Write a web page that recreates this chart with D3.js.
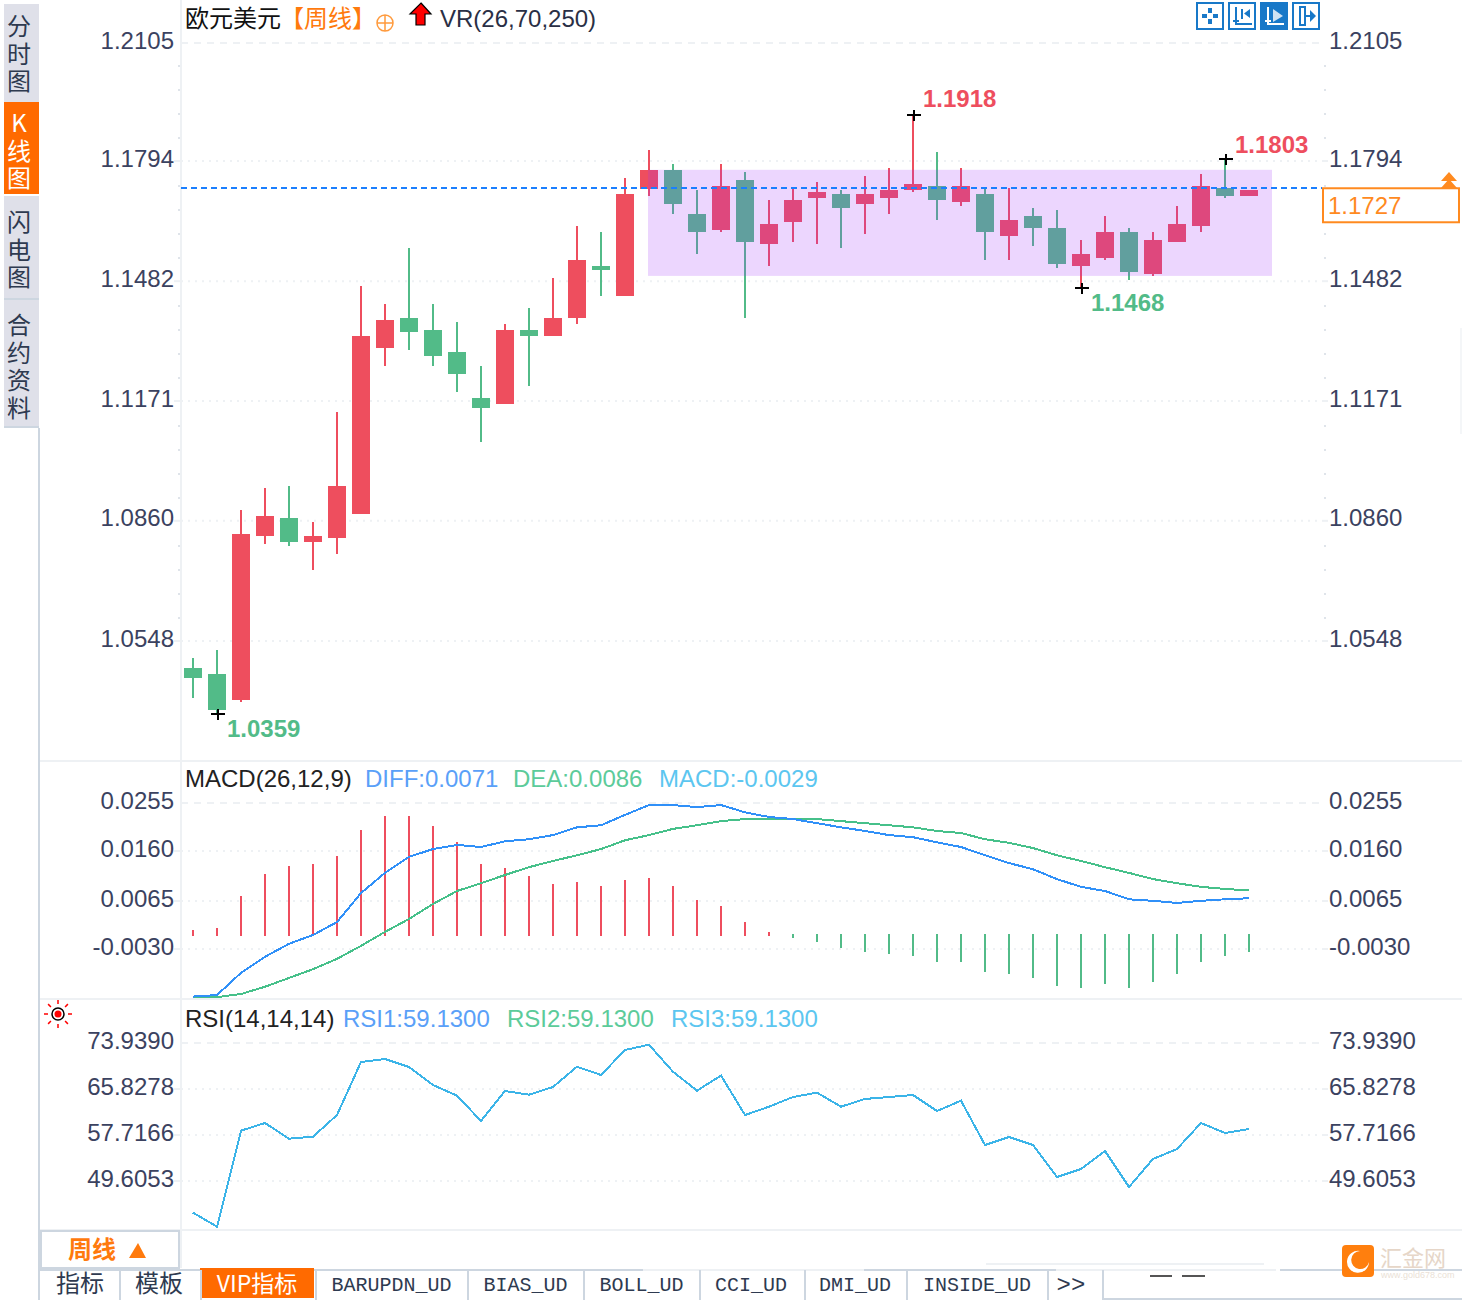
<!DOCTYPE html>
<html>
<head>
<meta charset="utf-8">
<title>欧元美元 周线</title>
<script src="https://cdn.jsdelivr.net/npm/d3@7"></script>
<style>
html, body { margin: 0; padding: 0; background: #fff; }
svg { display: block; }
text { font-family: "Liberation Sans", Arial, sans-serif; font-kerning: none; }
.cjk { font-family: "Noto Sans CJK SC", sans-serif; }
.mono { font-family: "Liberation Mono", monospace; }
.side { font-family: "Noto Sans CJK SC", sans-serif; writing-mode: vertical-rl; text-orientation: upright; letter-spacing: 3.6px; }
</style>
</head>
<body>
<div id="chartDiv"></div>
<script>
// weekly candles, oldest first
var opens = [1.0479,1.0463,1.0395,1.0822,1.0869,1.0807,1.0817,1.0879,1.1311,1.1389,1.1358,1.1301,1.1181,1.1166,1.1358,1.1343,1.1389,1.1525,1.1447,1.1725,1.1775,1.1660,1.1618,1.1749,1.1582,1.1639,1.1702,1.1712,1.1686,1.1702,1.1722,1.1733,1.1691,1.1712,1.1603,1.1655,1.1624,1.1525,1.1546,1.1613,1.1504,1.1587,1.1629,1.1728,1.1707];
var highs = [1.0505,1.0526,1.0890,1.0947,1.0952,1.0859,1.1145,1.1473,1.1426,1.1572,1.1426,1.1379,1.1265,1.1374,1.1415,1.1494,1.1629,1.1613,1.1754,1.1827,1.1790,1.1722,1.1790,1.1769,1.1696,1.1728,1.1743,1.1722,1.1759,1.1780,1.1918,1.1821,1.1780,1.1728,1.1728,1.1676,1.1670,1.1592,1.1655,1.1624,1.1613,1.1681,1.1764,1.1803,1.1722];
var lows = [1.0401,1.0359,1.0390,1.0801,1.0796,1.0734,1.0775,1.0879,1.1265,1.1306,1.1265,1.1197,1.1067,1.1166,1.1212,1.1343,1.1374,1.1447,1.1447,1.1707,1.1660,1.1556,1.1613,1.1389,1.1525,1.1587,1.1582,1.1572,1.1608,1.1660,1.1717,1.1644,1.1681,1.1540,1.1540,1.1577,1.1520,1.1468,1.1540,1.1488,1.1499,1.1587,1.1613,1.1702,1.1707];
var closes = [1.0453,1.0369,1.0827,1.0874,1.0807,1.0822,1.0952,1.1343,1.1384,1.1353,1.1291,1.1244,1.1155,1.1358,1.1343,1.1389,1.1540,1.1514,1.1712,1.1775,1.1686,1.1613,1.1733,1.1587,1.1634,1.1696,1.1717,1.1676,1.1712,1.1722,1.1738,1.1696,1.1733,1.1613,1.1644,1.1624,1.1530,1.1556,1.1613,1.1509,1.1592,1.1634,1.1733,1.1707,1.1722];
var lastPrice = 1.1727;
var zoneTop = 1.1775, zoneBottom = 1.1499;
var priceTicks = [1.2105,1.1794,1.1482,1.1171,1.0860,1.0548];

var macdBars = [.0010,.0014,.0075,.0118,.0133,.0137,.0153,.0203,.0230,.0230,.0210,.0180,.0137,.0129,.0114,.0098,.0102,.0095,.0106,.0110,.0095,.0068,.0056,.0025,.0006,-.0006,-.0014,-.0025,-.0033,-.0037,-.0041,-.0052,-.0052,-.0071,-.0075,-.0083,-.0098,-.0102,-.0095,-.0102,-.0091,-.0075,-.0052,-.0041,-.0033];
var diffLine = [-.0119,-.0116,-.0073,-.0042,-.0017,.0000,.0025,.0081,.0120,.0151,.0166,.0174,.0170,.0181,.0185,.0193,.0208,.0212,.0232,.0251,.0251,.0247,.0251,.0237,.0228,.0224,.0216,.0208,.0201,.0193,.0189,.0179,.0170,.0154,.0139,.0127,.0108,.0093,.0085,.0069,.0066,.0062,.0066,.0069,.0071];
var deaLine = [-.0120,-.0120,-.0114,-.0100,-.0083,-.0066,-.0046,-.0021,.0006,.0031,.0060,.0085,.0100,.0116,.0131,.0143,.0154,.0166,.0183,.0193,.0205,.0212,.0220,.0224,.0224,.0224,.0224,.0220,.0216,.0212,.0208,.0201,.0197,.0185,.0178,.0168,.0154,.0143,.0131,.0120,.0108,.0100,.0093,.0089,.0086];
var macdTicks = [.0255,.0160,.0065,-.0030];

var rsiLine = [44.02,41.55,58.48,59.83,57.06,57.42,61.24,70.59,71.12,69.71,66.53,64.65,60.19,65.48,64.82,66.18,69.76,68.30,72.71,73.64,68.88,65.53,68.20,61.24,62.71,64.42,65.18,62.71,64.07,64.42,64.77,61.95,63.77,55.95,57.36,55.95,50.31,51.72,54.90,48.55,53.49,55.25,59.83,58.07,58.78];
var rsiTicks = [73.9390,65.8278,57.7166,49.6053];

var sideTabs = ["分时图","K线图","闪电图","合约资料"];
var bottomTabs = ["BARUPDN_UD","BIAS_UD","BOLL_UD","CCI_UD","DMI_UD","INSIDE_UD"];

var RED = "#ee4e5e", GREEN = "#52bb88", GRID = "#eef1f4", AXIS_TEXT = "#3b4260", LINE = "#cdd6e0", ORANGE = "#ff7a0d";

var svg = d3.select("#chartDiv").append("svg").attr("width", 1462).attr("height", 1300);
svg.append("rect").attr("width", 1462).attr("height", 1300).attr("fill", "#fff");

var x = d3.scalePoint().domain(d3.range(opens.length)).range([193, 1249]);

var priceY = d3.scaleLinear().domain([1.2105, 1.0359]).range([43, 714]);
var priceAxisY = d3.scaleLinear().domain([1.2105, 1.1794, 1.0548]).range([43, 161, 641]);
var macdY = d3.scaleLinear().domain([0, .0255]).range([935, 803]);
var macdAxisY = d3.scaleLinear().domain([.0255, .0160, .0065, -.0030]).range([803, 851, 901, 949]);
var rsiY = d3.scaleLinear().domain([73.9390, 49.6053]).range([1043, 1181]);

// plain hyphen on negatives, same as the source
function fmt4(v) { return v.toFixed(4); }

function label(txt, px, py, color, opt) {
    opt = opt || {};
    return svg.append("text").attr("x", px).attr("y", py).attr("dy", "0.35em")
        .attr("fill", color).attr("font-size", opt.size || 24)
        .attr("font-weight", opt.weight || "normal")
        .attr("text-anchor", opt.anchor || "start")
        .attr("class", opt.cls || null).text(txt);
}

function hline(y1, x1, x2, color, h) {
    svg.append("rect").attr("x", x1).attr("y", y1).attr("width", x2 - x1).attr("height", h || 2).attr("fill", color);
}

function drawAxes(scale, ticks) {
    // grid first, top one is dashed, the rest dotted
    svg.append("g").selectAll("line").data(ticks).enter().append("line")
        .attr("x1", 181).attr("x2", 1322)
        .attr("y1", function (d) { return scale(d); })
        .attr("y2", function (d) { return scale(d); })
        .attr("stroke", GRID).attr("stroke-width", 2)
        .attr("stroke-dasharray", function (d, i) { return i == 0 ? "7,6" : "2,5"; });

    var left = svg.append("g").attr("transform", "translate(180,0)")
        .call(d3.axisLeft(scale).tickValues(ticks).tickFormat(fmt4).tickSize(6).tickPadding(0).offset(0));
    var right = svg.append("g").attr("transform", "translate(1322,0)")
        .call(d3.axisRight(scale).tickValues(ticks).tickFormat(fmt4).tickSize(6).tickPadding(1).offset(0));
    [left, right].forEach(function (a) {
        a.select(".domain").remove();
        a.selectAll(".tick line").attr("stroke", GRID).attr("stroke-width", 2);
        a.selectAll("text").attr("y", -2).attr("font-size", 24).attr("fill", AXIS_TEXT)
            .attr("font-family", '"Liberation Sans", Arial, sans-serif');
        // first label sits on the panel top, no tick mark there
        a.select(".tick line").attr("opacity", 0);
    });
}

// ---- panel frame
svg.append("rect").attr("x", 180).attr("y", 0).attr("width", 2).attr("height", 1268).attr("fill", GRID);
svg.append("rect").attr("x", 38).attr("y", 428).attr("width", 2).attr("height", 872).attr("fill", LINE);
hline(760, 40, 1462, GRID);
hline(998, 40, 1462, GRID);
hline(1229, 40, 1462, GRID);
svg.append("rect").attr("x", 1460).attr("y", 328).attr("width", 2).attr("height", 106).attr("fill", "#f4f6f8");

// ---- main price panel
drawAxes(priceAxisY, priceTicks);

// small ticks between the labels
d3.range(-4, 21).forEach(function (k) {
    if (k % 5 == 0) return;
    var yy = priceAxisY(1.1794) + 24 * k;
    [178, 1324].forEach(function (px) {
        svg.append("rect").attr("x", px).attr("y", yy).attr("width", 2).attr("height", 2).attr("fill", "#dfe4ea");
    });
});

var candles = svg.append("g").attr("shape-rendering", "crispEdges");
candles.selectAll(".wick").data(opens).enter().append("rect")
    .attr("class", "wick")
    .attr("x", function (d, i) { return x(i) - 1; })
    .attr("y", function (d, i) { return Math.round(priceY(highs[i])); })
    .attr("width", 2)
    .attr("height", function (d, i) { return Math.round(priceY(lows[i])) - Math.round(priceY(highs[i])); })
    .attr("fill", function (d, i) { return closes[i] >= d ? RED : GREEN; });
candles.selectAll(".body").data(opens).enter().append("rect")
    .attr("class", "body")
    .attr("x", function (d, i) { return x(i) - 9; })
    .attr("y", function (d, i) { return Math.round(priceY(Math.max(d, closes[i]))); })
    .attr("width", 18)
    .attr("height", function (d, i) { return Math.round(priceY(Math.min(d, closes[i]))) - Math.round(priceY(Math.max(d, closes[i]))); })
    .attr("fill", function (d, i) { return closes[i] >= d ? RED : GREEN; });

// range box sits on top of the candles
svg.append("rect")
    .attr("x", x(19) - 1).attr("y", priceY(zoneTop))
    .attr("width", x(44) + 23 - (x(19) - 1))
    .attr("height", priceY(zoneBottom) - priceY(zoneTop))
    .attr("fill", "rgb(160,50,248)").attr("opacity", 0.2);

// last price line
svg.append("line").attr("x1", 181).attr("x2", 1322)
    .attr("y1", Math.round(priceY(lastPrice))).attr("y2", Math.round(priceY(lastPrice)))
    .attr("stroke", "#1a7fff").attr("stroke-width", 2).attr("stroke-dasharray", "6,4");
svg.append("rect").attr("x", 1323).attr("y", priceY(lastPrice)).attr("width", 136).attr("height", 34)
    .attr("fill", "#fff").attr("stroke", "#ff8a1f").attr("stroke-width", 2);
label(fmt4(lastPrice), 1328, 206, "#ff8a1f");
svg.append("path").attr("d", "M1449,172L1457,181L1441,181ZM1449,179L1457,188L1441,188Z").attr("fill", "#ff8a1f");

// high/low markers
var marks = [
    { i: 30, v: highs[30], dx: 10, dy: -16, c: RED },
    { i: 43, v: highs[43], dx: 10, dy: -14, c: RED },
    { i: 37, v: lows[37], dx: 10, dy: 15, c: GREEN },
    { i: 1, v: lows[1], dx: 10, dy: 15, c: GREEN }
];
marks.forEach(function (m) {
    var my = Math.round(priceY(m.v));
    svg.append("rect").attr("x", x(m.i) - 6).attr("y", my - 1).attr("width", 14).attr("height", 2).attr("fill", "#000");
    svg.append("rect").attr("x", x(m.i)).attr("y", my - 5).attr("width", 2).attr("height", 11).attr("fill", "#000");
    label(fmt4(m.v), x(m.i) + m.dx, my + m.dy, m.c, { weight: "bold" });
});

// header row
label("欧元美元", 185, 19, "#111", { cls: "cjk" });
label("【周线】", 280, 19, ORANGE, { cls: "cjk" });
svg.append("circle").attr("cx", 385).attr("cy", 23).attr("r", 8).attr("fill", "none").attr("stroke", "#ff9a3d").attr("stroke-width", 1.5);
svg.append("path").attr("d", "M377,23H393M385,15V31").attr("stroke", "#ff9a3d").attr("stroke-width", 1.5);
svg.append("path").attr("d", "M421,3L431,14H425V25H416V14H410Z").attr("fill", "#f00").attr("stroke", "#000").attr("stroke-width", 1.2);
label("VR(26,70,250)", 440, 19, "#2a2f45");

// toolbar icons
var toolX = [1197, 1229, 1261, 1293];
var toolPaths = [
    ["M13,5V10M13,16V21M5,13H10M16,13H21", ""],
    ["M7,4V21H23M4,18H10M13,6V16", "M21,6V15L15,10.5Z"],
    ["M7,4V21H23M4,18H10", "M12,6L22,13L12,19Z"],
    ["M7,4H12V22H7ZM12,13H17", "M17,7L23,13L17,19Z"]
];
toolX.forEach(function (tx, i) {
    var on = i == 2;
    var col = on ? "#fff" : "#1878c8";
    var g = svg.append("g").attr("transform", "translate(" + tx + ",3)");
    g.append("rect").attr("width", 26).attr("height", 26).attr("fill", on ? "#1878c8" : "#fff").attr("stroke", "#1878c8").attr("stroke-width", 2);
    g.append("path").attr("d", toolPaths[i][0]).attr("fill", "none").attr("stroke", col).attr("stroke-width", i == 0 ? 4 : 2);
    g.append("path").attr("d", toolPaths[i][1]).attr("fill", on ? "#cfe2f3" : col);
});

// ---- MACD panel
drawAxes(macdAxisY, macdTicks);

svg.append("g").attr("shape-rendering", "crispEdges").selectAll("rect").data(macdBars).enter().append("rect")
    .attr("x", function (d, i) { return x(i) - 1; })
    .attr("y", function (d) { return d >= 0 ? macdY(d) : macdY(0) - 1; })
    .attr("width", 2)
    .attr("height", function (d) { return Math.abs(macdY(d) - macdY(0)) + 1; })
    .attr("fill", function (d) { return d >= 0 ? RED : GREEN; });

var macdLine = d3.line().x(function (d, i) { return x(i); }).y(function (d) { return macdY(d); });
svg.append("path").attr("d", macdLine(deaLine)).attr("fill", "none").attr("stroke", "#46c08a").attr("stroke-width", 2).attr("shape-rendering", "crispEdges");
svg.append("path").attr("d", macdLine(diffLine)).attr("fill", "none").attr("stroke", "#3090f8").attr("stroke-width", 2).attr("shape-rendering", "crispEdges");

label("MACD(26,12,9)", 185, 779, "#222");
label("DIFF:0.0071", 365, 779, "#5aa0f8");
label("DEA:0.0086", 513, 779, "#5ccb9a");
label("MACD:-0.0029", 659, 779, "#5cc6f0");

// ---- RSI panel
drawAxes(rsiY, rsiTicks);

svg.append("path")
    .attr("d", d3.line().x(function (d, i) { return x(i); }).y(function (d) { return rsiY(d); })(rsiLine))
    .attr("fill", "none").attr("stroke", "#3bb4e8").attr("stroke-width", 2).attr("shape-rendering", "crispEdges");

label("RSI(14,14,14)", 185, 1019, "#222");
label("RSI1:59.1300", 343, 1019, "#5aa0f8");
label("RSI2:59.1300", 507, 1019, "#5ccb9a");
label("RSI3:59.1300", 671, 1019, "#5cc6f0");

// sun icon
var sun = svg.append("g").attr("transform", "translate(58,1014)");
sun.append("circle").attr("r", 6).attr("fill", "#fff").attr("stroke", "#000").attr("stroke-width", 1.5);
sun.append("circle").attr("r", 3.5).attr("fill", "#f00");
d3.range(8).forEach(function (k) {
    var a = k * Math.PI / 4;
    sun.append("line").attr("x1", 10 * Math.cos(a)).attr("y1", 10 * Math.sin(a))
        .attr("x2", 14 * Math.cos(a)).attr("y2", 14 * Math.sin(a))
        .attr("stroke", "#f00").attr("stroke-width", 1.5);
});

// ---- left side tabs, one vertical text per tab
var sideTop = [4, 102, 196, 300], sideH = [98, 92, 102, 128], sideStart = [14, 111, 210, 313];
sideTabs.forEach(function (t, i) {
    var on = i == 1;
    svg.append("rect").attr("x", 4).attr("y", sideTop[i]).attr("width", 35).attr("height", sideH[i]).attr("fill", on ? "#ff6a00" : "#dfe0e9");
    svg.append("text").attr("class", "side").attr("x", 19).attr("y", sideStart[i])
        .attr("font-size", 24).attr("fill", on ? "#fff" : "#2e3a50").text(t);
});
hline(298, 4, 39, "#cdd6e0");
hline(426, 4, 39, "#cdd6e0");

// ---- bottom tab strip
svg.append("rect").attr("x", 41).attr("y", 1231).attr("width", 138).attr("height", 37).attr("fill", "#fff").attr("stroke", LINE).attr("stroke-width", 2);
label("周线", 68, 1250, ORANGE, { cls: "cjk", weight: "bold" });
svg.append("path").attr("d", "M138,1243L146,1258L129,1258Z").attr("fill", ORANGE);

hline(1269, 40, 643, LINE);
hline(1269, 643, 864, GRID);
hline(1269, 864, 1056, LINE);
hline(1269, 1056, 1276, GRID);
hline(1269, 1280, 1462, LINE);
hline(1263, 986, 1264, GRID);
hline(1298, 1102, 1462, LINE);

svg.append("rect").attr("x", 200).attr("y", 1268).attr("width", 114).attr("height", 30).attr("fill", "#ff6a00");
[119, 200, 315, 467, 583, 699, 804, 906, 1047, 1102].forEach(function (sx) {
    svg.append("rect").attr("x", sx).attr("y", 1270).attr("width", 2).attr("height", 30).attr("fill", LINE);
});
label("指标", 80, 1284, "#2e3a50", { cls: "cjk", anchor: "middle" });
label("模板", 159, 1284, "#2e3a50", { cls: "cjk", anchor: "middle" });
label("VIP指标", 257, 1284, "#fff", { cls: "cjk", anchor: "middle", size: 23 });
var tabCenter = [391.5, 525.5, 641.5, 751, 855, 977];
bottomTabs.forEach(function (t, i) {
    label(t, tabCenter[i], 1284, "#2e3a50", { cls: "mono", anchor: "middle", size: 20 });
});
label(">>", 1071, 1284, "#2e3a50", { cls: "mono", anchor: "middle", size: 24 });
hline(1275, 1150, 1172, "#555", 2);
hline(1275, 1182, 1205, "#555", 2);

// watermark
svg.append("rect").attr("x", 1342).attr("y", 1245).attr("width", 32).attr("height", 32).attr("rx", 4).attr("fill", "#ff7f0e");
svg.append("path").attr("d", "M1360,1251A11,11 0 1 0 1369,1262A9,9 0 1 1 1360,1251Z").attr("fill", "#fff");
label("汇金网", 1380, 1258, "#e6d6c8", { cls: "cjk", size: 22 });
label("www.gold678.com", 1381, 1275, "#eadfd6", { size: 9 });
</script>
</body>
</html>
